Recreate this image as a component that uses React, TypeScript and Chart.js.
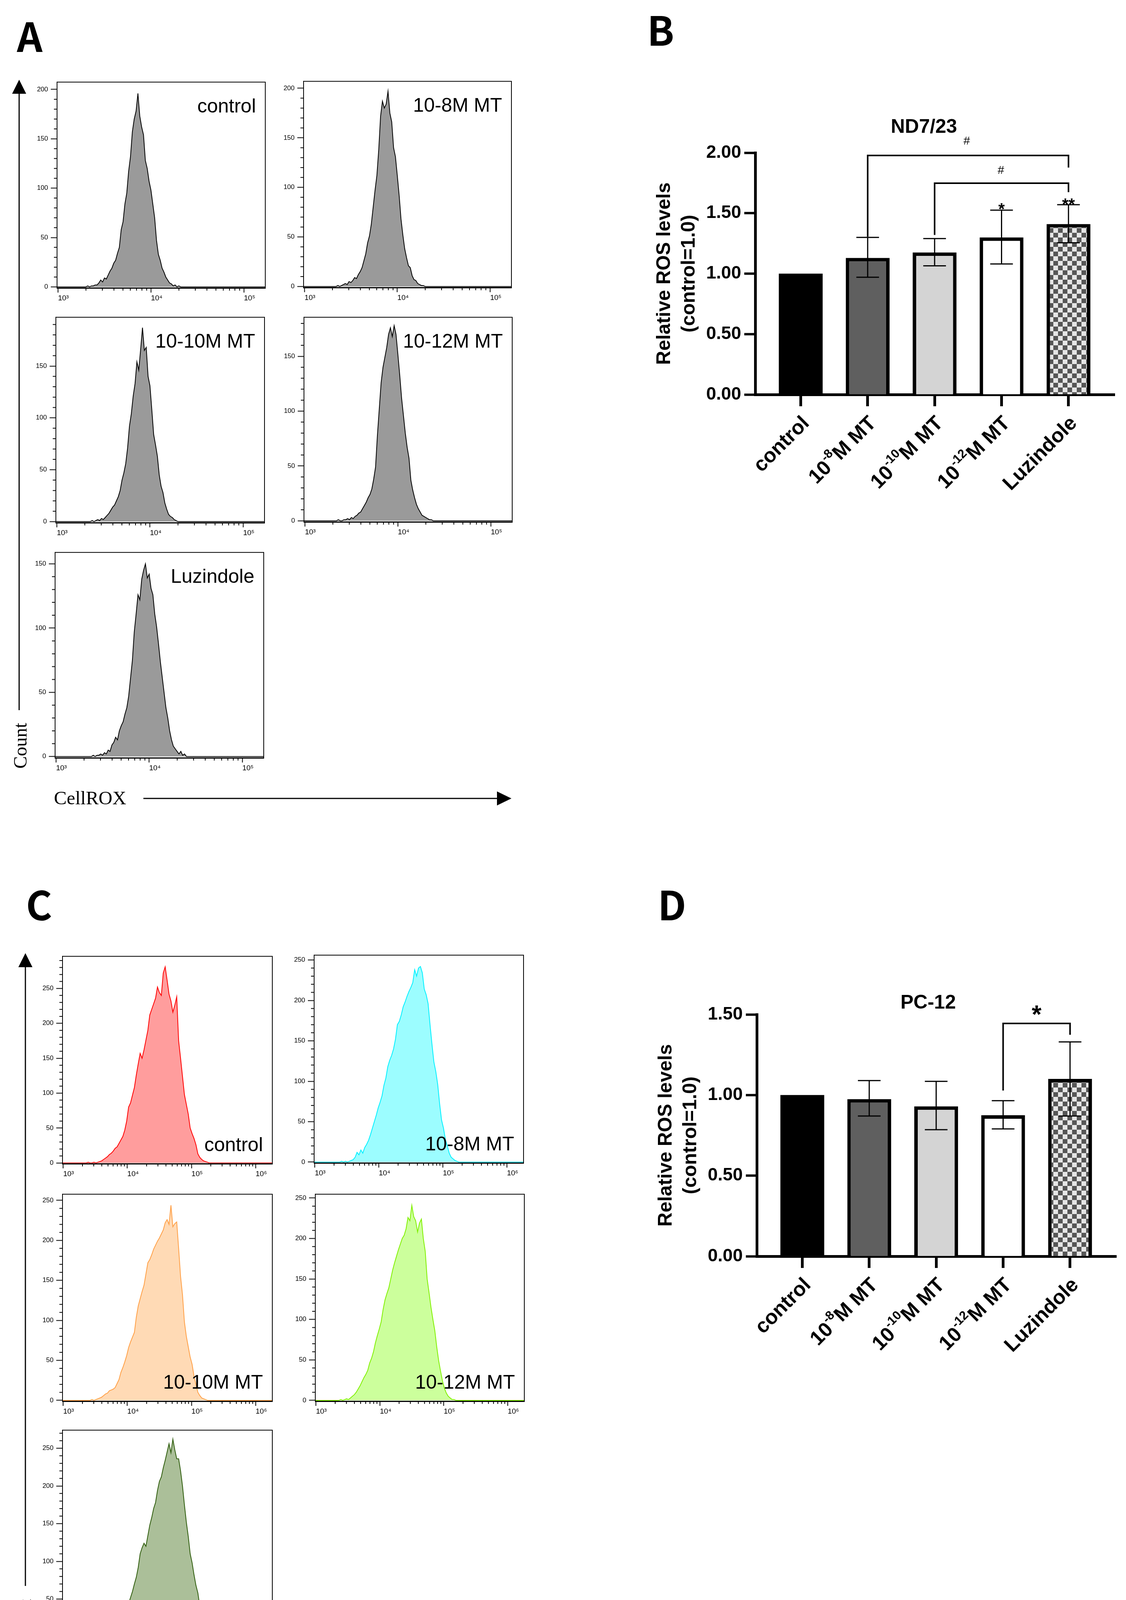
import React, { useEffect, useRef } from 'react';
import { Chart, registerables } from 'chart.js';

Chart.register(...registerables);

const SANS = "'Liberation Sans', Arial, Helvetica, sans-serif";
const NARROW = "'Liberation Sans Narrow', 'Liberation Sans', Arial, sans-serif";
const SERIF = "'Liberation Serif', 'Times New Roman', serif";
const CJK = "'Noto Sans CJK SC', 'Noto Sans', sans-serif";

Chart.defaults.font.family = SANS;
Chart.defaults.color = '#000';

// ---------------- Panel A: flow histograms (ND7/23), log10 channel bins ----------------
const A_BIN_START = 3.3;
const A_BIN_STEP = 0.02;
const A_CONTROL = [0, 1, 0, 1, 1, 2, 2, 4, 7, 5, 9, 8, 12, 16, 19, 24, 27, 34, 40, 58, 66, 84, 95, 117, 132, 157, 170, 178, 196, 173, 162, 154, 128, 120, 107, 98, 84, 70, 47, 33, 27, 19, 15, 10, 7, 4, 3, 1, 2, 0, 1, 0, 0, 0, 0, 0];
const A_MT8 = [0, 0, 0, 1, 0, 1, 2, 3, 2, 5, 4, 6, 9, 8, 12, 15, 19, 26, 33, 44, 51, 63, 80, 97, 112, 138, 172, 187, 180, 184, 197, 175, 166, 140, 131, 112, 92, 68, 52, 38, 29, 21, 19, 11, 7, 6, 3, 2, 1, 1, 0, 0, 0, 0, 0, 0];
const A_MT10 = [0, 0, 0, 0, 1, 0, 1, 2, 1, 3, 2, 4, 6, 8, 11, 14, 16, 20, 24, 30, 40, 47, 56, 71, 92, 104, 121, 133, 154, 146, 166, 187, 165, 168, 140, 131, 108, 84, 74, 63, 45, 34, 28, 18, 12, 7, 5, 4, 2, 1, 0, 0, 0, 0, 0, 0];
const A_MT12 = [0, 0, 0, 1, 0, 0, 1, 1, 2, 1, 3, 2, 4, 5, 7, 8, 11, 14, 17, 21, 24, 29, 38, 49, 78, 102, 126, 140, 149, 158, 170, 176, 168, 178, 170, 152, 133, 112, 96, 80, 67, 57, 37, 28, 21, 15, 11, 8, 5, 4, 3, 2, 1, 1, 0, 0];
const A_LUZ = [0, 0, 0, 0, 0, 1, 0, 1, 1, 2, 1, 3, 2, 5, 4, 9, 11, 15, 13, 20, 24, 27, 33, 38, 47, 61, 75, 97, 111, 126, 122, 138, 145, 150, 139, 142, 131, 126, 111, 101, 88, 74, 62, 50, 38, 30, 20, 13, 8, 6, 4, 2, 4, 1, 2, 0];

// ---------------- Panel C: flow histograms (PC-12) ----------------
const C_BIN_START = 3.3;
const C_BIN_STEP = 0.03;
const C_CONTROL = [0, 0, 0, 1, 0, 0, 1, 0, 1, 2, 3, 5, 7, 9, 12, 14, 17, 21, 23, 28, 33, 38, 47, 60, 80, 86, 97, 108, 126, 142, 157, 150, 162, 176, 190, 212, 220, 228, 236, 252, 244, 240, 272, 281, 262, 242, 232, 216, 226, 238, 175, 150, 124, 98, 84, 70, 50, 42, 35, 26, 13, 8, 5, 3, 2, 1, 0, 0, 0];
const C_MT8 = [0, 0, 0, 0, 1, 0, 1, 0, 1, 2, 3, 6, 12, 9, 15, 11, 18, 22, 27, 34, 42, 50, 58, 67, 74, 82, 95, 104, 118, 126, 132, 140, 152, 170, 174, 182, 192, 198, 205, 211, 216, 222, 238, 230, 240, 242, 234, 214, 207, 196, 170, 146, 124, 112, 96, 72, 52, 42, 28, 20, 11, 6, 4, 2, 1, 0, 0, 0, 0];
const C_MT10 = [0, 0, 0, 0, 0, 1, 0, 1, 2, 3, 4, 6, 8, 9, 12, 13, 14, 16, 21, 26, 35, 41, 48, 56, 66, 73, 79, 85, 104, 118, 127, 136, 144, 158, 172, 176, 182, 189, 194, 199, 203, 208, 213, 222, 226, 220, 244, 217, 221, 223, 190, 155, 132, 98, 80, 67, 54, 45, 30, 20, 10, 6, 3, 2, 1, 0, 0, 0, 0];
const C_MT12 = [0, 0, 0, 1, 0, 1, 2, 1, 3, 5, 7, 10, 14, 18, 23, 28, 32, 37, 46, 52, 60, 71, 80, 88, 97, 112, 124, 132, 139, 150, 161, 170, 178, 186, 193, 200, 204, 212, 226, 222, 241, 227, 222, 208, 219, 224, 200, 184, 150, 133, 115, 100, 86, 66, 49, 36, 24, 15, 9, 5, 3, 1, 1, 0, 0, 0, 0, 0, 0];
const C_LUZ = [0, 0, 0, 0, 0, 0, 1, 0, 0, 1, 0, 1, 2, 3, 4, 5, 6, 8, 9, 11, 13, 16, 22, 34, 44, 52, 60, 70, 79, 92, 110, 118, 124, 120, 134, 148, 158, 170, 178, 194, 206, 212, 224, 234, 245, 256, 244, 262, 248, 236, 236, 220, 200, 175, 152, 133, 110, 98, 82, 68, 58, 40, 26, 16, 10, 6, 3, 1, 0];

const HIST_LABELS = ['control', '10-8M MT', '10-10M MT', '10-12M MT', 'Luzindole'];
const HIST_X_TICKS_A = [3, 4, 5];
const HIST_X_TICKS_C = [3, 4, 5, 6];
const HIST_Y_TICKS = [0, 50, 100, 150, 200, 250];
const SUP: Record<number, string> = { 3: '\u00B3', 4: '\u2074', 5: '\u2075', 6: '\u2076' };

// ---------------- Panels B & D: bar charts ----------------
const BAR_LABELS = ['control', '10^-8^M MT', '10^-10^M MT', '10^-12^M MT', 'Luzindole'];
const B_MEANS = [1.0, 1.13, 1.175, 1.3, 1.41];
const B_ERR_LOW = [null, 0.97, 1.065, 1.08, 1.255];
const B_ERR_HIGH = [null, 1.3, 1.29, 1.525, 1.57];
const B_Y_TICKS = [0, 0.5, 1, 1.5, 2];
const B_BRACKETS = [
  { from: 1, to: 4, top: 1.977, leftEnd: 1.305, rightEnd: 1.877 },
  { from: 2, to: 4, top: 1.748, leftEnd: 1.32, rightEnd: 1.674 },
];
const B_MARKS = [
  { x: 2.48, y: 2.103, text: '#' },
  { x: 2.99, y: 1.861, text: '#' },
  { x: 3.0, y: 1.567, text: '*' },
  { x: 4.0, y: 1.606, text: '**' },
];

const D_MEANS = [1.0, 0.975, 0.93, 0.875, 1.1];
const D_ERR_LOW = [null, 0.87, 0.785, 0.79, 0.87];
const D_ERR_HIGH = [null, 1.09, 1.085, 0.965, 1.33];
const D_Y_TICKS = [0, 0.5, 1, 1.5];
const D_BRACKETS = [{ from: 3, to: 4, top: 1.444, leftEnd: 1.028, rightEnd: 1.374 }];
const D_MARKS = [{ x: 3.5, y: 1.537, text: '*' }];

const Y_TITLE = ['Relative ROS levels', '(control=1.0)'];

// ------------------------------------------------------------------
function Histogram(props: any) {
  const { box, start, step, values, xMin, xMax, yMax, xTicks, line, fill, label, labelAtTop } = props;
  const ref = useRef<HTMLCanvasElement | null>(null);
  const [L, T, R, B] = box;
  const padL = 80, padT = 12, padR = 16, padB = 56;
  const w = R - L + padL + padR;
  const h = B - T + padT + padB;

  useEffect(() => {
    const canvas = ref.current;
    if (!canvas) return;
    const pts = [
      { x: xMin, y: 0 },
      ...values.map((v: number, i: number) => ({ x: start + i * step, y: v })),
      { x: xMax, y: 0 },
    ];
    const yTicks = HIST_Y_TICKS.filter((v) => v <= yMax);
    const decor = {
      id: 'histDecor',
      afterDraw(chart: any) {
        const { ctx, chartArea: a, scales } = chart;
        const xs = scales.x, ys = scales.y;
        ctx.save();
        ctx.strokeStyle = '#000';
        ctx.lineWidth = 2;
        ctx.strokeRect(a.left, a.top, a.right - a.left, a.bottom - a.top);
        ctx.beginPath();
        for (let d = 2; d <= 6; d++) {
          for (let k = 2; k <= 9; k++) {
            const v = d + Math.log10(k);
            if (v <= xMin || v >= xMax) continue;
            const px = xs.getPixelForValue(v);
            ctx.moveTo(px, a.bottom);
            ctx.lineTo(px, a.bottom + 7);
          }
        }
        for (let v = 10; v < yMax; v += 10) {
          if (v % 50 === 0) continue;
          const py = ys.getPixelForValue(v);
          ctx.moveTo(a.left - 8, py);
          ctx.lineTo(a.left, py);
        }
        ctx.stroke();
        ctx.font = `50px ${SANS}`;
        ctx.fillStyle = '#000';
        ctx.textAlign = 'right';
        ctx.textBaseline = 'middle';
        const ly = labelAtTop ? a.top + 64 : a.bottom - 46;
        ctx.fillText(label, a.right - 24, ly);
        ctx.restore();
      },
    };
    const chart = new Chart(canvas, {
      type: 'line',
      data: {
        datasets: [
          {
            data: pts,
            borderColor: line,
            backgroundColor: fill,
            borderWidth: 2,
            fill: 'origin',
            pointRadius: 0,
            tension: 0,
          },
        ],
      },
      options: {
        animation: false,
        responsive: false,
        devicePixelRatio: 1,
        events: [],
        layout: { padding: { left: 0, top: padT, right: padR, bottom: 0 } },
        plugins: { legend: { display: false }, tooltip: { enabled: false }, title: { display: false } },
        scales: {
          x: {
            type: 'linear',
            min: xMin,
            max: xMax,
            afterBuildTicks: (s: any) => {
              s.ticks = xTicks.map((v: number) => ({ value: v }));
            },
            afterFit: (s: any) => {
              s.height = padB;
            },
            ticks: {
              callback: (v: any) => '10' + SUP[Math.round(Number(v))],
              font: { family: NARROW, size: 19 },
              color: '#000',
              padding: 3,
              maxRotation: 0,
              minRotation: 0,
              align: 'start',
              autoSkip: false,
            },
            grid: { display: true, drawOnChartArea: false, drawTicks: true, tickLength: 12, tickWidth: 2, tickColor: '#000' },
            border: { display: true, width: 3, color: '#000' },
          },
          y: {
            type: 'linear',
            min: -1,
            max: yMax,
            afterBuildTicks: (s: any) => {
              s.ticks = yTicks.map((v) => ({ value: v }));
            },
            afterFit: (s: any) => {
              s.width = padL;
            },
            ticks: {
              callback: (v: any) => String(v),
              font: { family: NARROW, size: 17 },
              color: '#000',
              padding: 7,
              autoSkip: false,
            },
            grid: { display: true, drawOnChartArea: false, drawTicks: true, tickLength: 16, tickWidth: 2, tickColor: '#000' },
            border: { display: true, width: 2, color: '#000' },
          },
        },
      } as any,
      plugins: [decor],
    });
    return () => chart.destroy();
  }, []);

  return (
    <canvas
      ref={ref}
      width={w}
      height={h}
      style={{ position: 'absolute', left: L - padL, top: T - padT, width: w, height: h }}
    />
  );
}

function makeChecker(): CanvasPattern | string {
  const c = document.createElement('canvas');
  const s = 12;
  c.width = s * 2;
  c.height = s * 2;
  const g = c.getContext('2d');
  if (!g) return '#999';
  g.fillStyle = '#e6e6e6';
  g.fillRect(0, 0, s * 2, s * 2);
  g.fillStyle = '#565656';
  g.fillRect(0, 0, s, s);
  g.fillRect(s, s, s, s);
  const p = g.createPattern(c, 'repeat');
  return p || '#999';
}

function drawRotatedLabel(ctx: CanvasRenderingContext2D, text: string, x: number, y: number) {
  const parts = text.split('^');
  const mainFont = `bold 52px ${SANS}`;
  const supFont = `bold 32px ${SANS}`;
  const widths: number[] = [];
  let total = 0;
  parts.forEach((p, i) => {
    ctx.font = i % 2 ? supFont : mainFont;
    const wd = ctx.measureText(p).width;
    widths.push(wd);
    total += wd;
  });
  ctx.save();
  ctx.translate(x, y);
  ctx.rotate(-Math.PI / 4);
  ctx.textBaseline = 'middle';
  ctx.textAlign = 'left';
  ctx.fillStyle = '#000';
  let cx = -total;
  parts.forEach((p, i) => {
    ctx.font = i % 2 ? supFont : mainFont;
    ctx.fillText(p, cx, i % 2 ? -19 : 0);
    cx += widths[i];
  });
  ctx.restore();
}

function BarPanel(props: any) {
  const { left, top, width, height, areaLeft, areaTop, padRight, xAxisH, means, low, high, yMax, yTicks, title, titleX, titleY, brackets, marks, starSize } = props;
  const ref = useRef<HTMLCanvasElement | null>(null);

  useEffect(() => {
    const canvas = ref.current;
    if (!canvas) return;
    const fills = ['#000000', '#5f5f5f', '#d4d4d4', '#ffffff', makeChecker()];
    const decor = {
      id: 'barDecor',
      afterDatasetsDraw(chart: any) {
        const { ctx, scales } = chart;
        const xs = scales.x, ys = scales.y;
        ctx.save();
        ctx.strokeStyle = '#000';
        ctx.lineWidth = 3;
        means.forEach((_m: number, i: number) => {
          const lo = low[i], hi = high[i];
          if (lo == null || hi == null) return;
          const px = xs.getPixelForValue(i);
          const y1 = ys.getPixelForValue(hi);
          const y2 = ys.getPixelForValue(lo);
          ctx.beginPath();
          ctx.moveTo(px, y1);
          ctx.lineTo(px, y2);
          ctx.moveTo(px - 29, y1);
          ctx.lineTo(px + 29, y1);
          ctx.moveTo(px - 29, y2);
          ctx.lineTo(px + 29, y2);
          ctx.stroke();
        });
        ctx.restore();
      },
      afterDraw(chart: any) {
        const { ctx, scales, chartArea: a } = chart;
        const xs = scales.x, ys = scales.y;
        ctx.save();
        // brackets
        ctx.strokeStyle = '#000';
        ctx.lineWidth = 4;
        ctx.lineJoin = 'miter';
        brackets.forEach((b: any) => {
          const x1 = xs.getPixelForValue(b.from);
          const x2 = xs.getPixelForValue(b.to);
          ctx.beginPath();
          ctx.moveTo(x1, ys.getPixelForValue(b.leftEnd));
          ctx.lineTo(x1, ys.getPixelForValue(b.top));
          ctx.lineTo(x2, ys.getPixelForValue(b.top));
          ctx.lineTo(x2, ys.getPixelForValue(b.rightEnd));
          ctx.stroke();
        });
        // significance marks
        ctx.fillStyle = '#000';
        ctx.textAlign = 'center';
        ctx.textBaseline = 'alphabetic';
        marks.forEach((m: any) => {
          const isStar = m.text.startsWith('*');
          const size = isStar ? starSize : 30;
          ctx.font = `${isStar ? 'bold ' : ''}${size}px ${SANS}`;
          const px = xs.getPixelForValue(m.x);
          const py = ys.getPixelForValue(m.y);
          ctx.fillText(m.text, px, py + (isStar ? 0.58 : 0.36) * size);
        });
        // title
        ctx.font = `bold 50px ${SANS}`;
        ctx.textBaseline = 'middle';
        ctx.fillText(title, xs.getPixelForValue(titleX), ys.getPixelForValue(titleY));
        // y axis title
        const cy = (a.top + a.bottom) / 2;
        const offs = [-232, -169];
        Y_TITLE.forEach((t, i) => {
          ctx.save();
          ctx.translate(a.left + offs[i], cy);
          ctx.rotate(-Math.PI / 2);
          ctx.font = `bold 50px ${SANS}`;
          ctx.textAlign = 'center';
          ctx.textBaseline = 'middle';
          ctx.fillText(t, 0, 0);
          ctx.restore();
        });
        // x category labels
        BAR_LABELS.forEach((lab, i) => {
          drawRotatedLabel(ctx, lab, xs.getPixelForValue(i) + 14, a.bottom + 66);
        });
        ctx.restore();
      },
    };
    const chart = new Chart(canvas, {
      type: 'bar',
      data: {
        datasets: [
          {
            data: means.map((m: number, i: number) => ({ x: i, y: m })),
            backgroundColor: fills,
            borderColor: '#000',
            borderWidth: [0, 9, 9, 9, 9],
            borderSkipped: 'start',
            barPercentage: 0.655,
            categoryPercentage: 1,
          },
        ],
      },
      options: {
        animation: false,
        responsive: false,
        devicePixelRatio: 1,
        events: [],
        layout: { padding: { left: 0, top: areaTop, right: padRight, bottom: 0 } },
        plugins: { legend: { display: false }, tooltip: { enabled: false }, title: { display: false } },
        scales: {
          x: {
            type: 'linear',
            min: -0.68,
            max: 4.69,
            offset: false,
            z: 1,
            afterBuildTicks: (s: any) => {
              s.ticks = [0, 1, 2, 3, 4].map((v) => ({ value: v }));
            },
            afterFit: (s: any) => {
              s.height = xAxisH;
            },
            ticks: { display: false },
            grid: { display: true, offset: false, drawOnChartArea: false, drawTicks: true, tickLength: 30, tickWidth: 7, tickColor: '#000' },
            border: { display: true, width: 7, color: '#000' },
          },
          y: {
            type: 'linear',
            min: 0,
            max: yMax,
            afterBuildTicks: (s: any) => {
              s.ticks = yTicks.map((v: number) => ({ value: v }));
            },
            afterFit: (s: any) => {
              s.width = areaLeft;
            },
            ticks: {
              callback: (v: any) => Number(v).toFixed(2),
              font: { family: SANS, size: 46, weight: 'bold' },
              color: '#000',
              padding: 8,
              autoSkip: false,
            },
            grid: { display: true, drawOnChartArea: false, drawTicks: true, tickLength: 28, tickWidth: 6, tickColor: '#000' },
            border: { display: true, width: 7, color: '#000' },
          },
        },
      } as any,
      plugins: [decor],
    });
    return () => chart.destroy();
  }, []);

  return (
    <canvas
      ref={ref}
      width={width}
      height={height}
      style={{ position: 'absolute', left, top, width, height }}
    />
  );
}

const A_COMMON = { start: A_BIN_START, step: A_BIN_STEP, xMin: 2.99, xMax: 5.23, xTicks: HIST_X_TICKS_A, line: '#000000', fill: '#9a9a9a', labelAtTop: true };
const C_COMMON = { start: C_BIN_START, step: C_BIN_STEP, xMin: 2.99, xMax: 6.26, xTicks: HIST_X_TICKS_C, labelAtTop: false };

export default function App() {
  useEffect(() => {
    document.body.style.margin = '0';
  }, []);

  const letter = { fontFamily: CJK, fontWeight: 700, fontSize: 102, textAnchor: 'middle' as const };

  return (
    <div style={{ position: 'absolute', left: 0, top: 0, width: 2882, height: 4342, background: '#ffffff', overflow: 'hidden' }}>
      {/* Panel A */}
      <Histogram {...A_COMMON} box={[146, 205, 679, 737]} values={A_CONTROL} yMax={207.4} label={HIST_LABELS[0]} />
      <Histogram {...A_COMMON} box={[777, 203, 1309, 736]} values={A_MT8} yMax={207} label={HIST_LABELS[1]} />
      <Histogram {...A_COMMON} box={[143, 807, 677, 1338]} values={A_MT10} yMax={197} label={HIST_LABELS[2]} />
      <Histogram {...A_COMMON} box={[778, 807, 1311, 1336]} values={A_MT12} yMax={185.6} label={HIST_LABELS[3]} />
      <Histogram {...A_COMMON} box={[141, 1409, 675, 1940]} values={A_LUZ} yMax={158.9} label={HIST_LABELS[4]} />

      {/* Panel C */}
      <Histogram {...C_COMMON} box={[160, 2443, 697, 2979]} values={C_CONTROL} yMax={296} line="#ff0000" fill="#ff9d9d" label={HIST_LABELS[0]} />
      <Histogram {...C_COMMON} box={[804, 2440, 1340, 2977]} values={C_MT8} yMax={256} line="#00f0ff" fill="#9cfdff" label={HIST_LABELS[1]} />
      <Histogram {...C_COMMON} box={[160, 3052, 697, 3587]} values={C_MT10} yMax={257.7} line="#ff9f45" fill="#ffdab5" label={HIST_LABELS[2]} />
      <Histogram {...C_COMMON} box={[807, 3052, 1342, 3587]} values={C_MT12} yMax={254.7} line="#7ff000" fill="#ccff9c" label={HIST_LABELS[3]} />
      <Histogram {...C_COMMON} box={[160, 3656, 697, 4192]} values={C_LUZ} yMax={274} line="#2e5c0c" fill="#abbf99" label={HIST_LABELS[4]} />

      {/* Panel B */}
      <BarPanel
        left={1580} top={200} width={1302} height={1300}
        areaLeft={353} areaTop={191} padRight={29} xAxisH={490}
        means={B_MEANS} low={B_ERR_LOW} high={B_ERR_HIGH}
        yMax={2} yTicks={B_Y_TICKS}
        title="ND7/23" titleX={1.84} titleY={2.21}
        brackets={B_BRACKETS} marks={B_MARKS} starSize={42}
      />

      {/* Panel D */}
      <BarPanel
        left={1580} top={2400} width={1302} height={1300}
        areaLeft={357} areaTop={197} padRight={25} xAxisH={484}
        means={D_MEANS} low={D_ERR_LOW} high={D_ERR_HIGH}
        yMax={1.5} yTicks={D_Y_TICKS}
        title="PC-12" titleX={1.88} titleY={1.57}
        brackets={D_BRACKETS} marks={D_MARKS} starSize={64}
      />

      {/* Decorations: panel letters, axis arrows, axis words */}
      <svg width={2882} height={4342} style={{ position: 'absolute', left: 0, top: 0, pointerEvents: 'none' }}>
        <text x={76} y={133} {...letter}>A</text>
        <text x={1691} y={117} {...letter}>B</text>
        <text x={100} y={2356} {...letter}>C</text>
        <text x={1720} y={2356} {...letter}>D</text>

        {/* A arrows */}
        <line x1={49} y1={1818} x2={49} y2={236} stroke="#000" strokeWidth={3} />
        <polygon points="49,204 31,240 67,240" fill="#000" />
        <line x1={367} y1={2044} x2={1276} y2={2044} stroke="#000" strokeWidth={3} />
        <polygon points="1309,2044 1272,2026 1272,2062" fill="#000" />
        <text transform="translate(51,1909) rotate(-90)" textAnchor="middle" dominantBaseline="central" fontFamily={SERIF} fontSize={48}>Count</text>
        <text x={138} y={2042} dominantBaseline="central" fontFamily={SERIF} fontSize={49}>CellROX</text>

        {/* C arrows */}
        <line x1={65} y1={4060} x2={65} y2={2474} stroke="#000" strokeWidth={3} />
        <polygon points="65,2440 47,2476 83,2476" fill="#000" />
        <line x1={388} y1={4291} x2={1328} y2={4291} stroke="#000" strokeWidth={3} />
        <polygon points="1361,4291 1324,4273 1324,4309" fill="#000" />
        <text transform="translate(63,4153) rotate(-90)" textAnchor="middle" dominantBaseline="central" fontFamily={SERIF} fontSize={48}>Count</text>
        <text x={169} y={4282} dominantBaseline="central" fontFamily={SERIF} fontSize={49}>CellROX</text>
      </svg>
    </div>
  );
}
